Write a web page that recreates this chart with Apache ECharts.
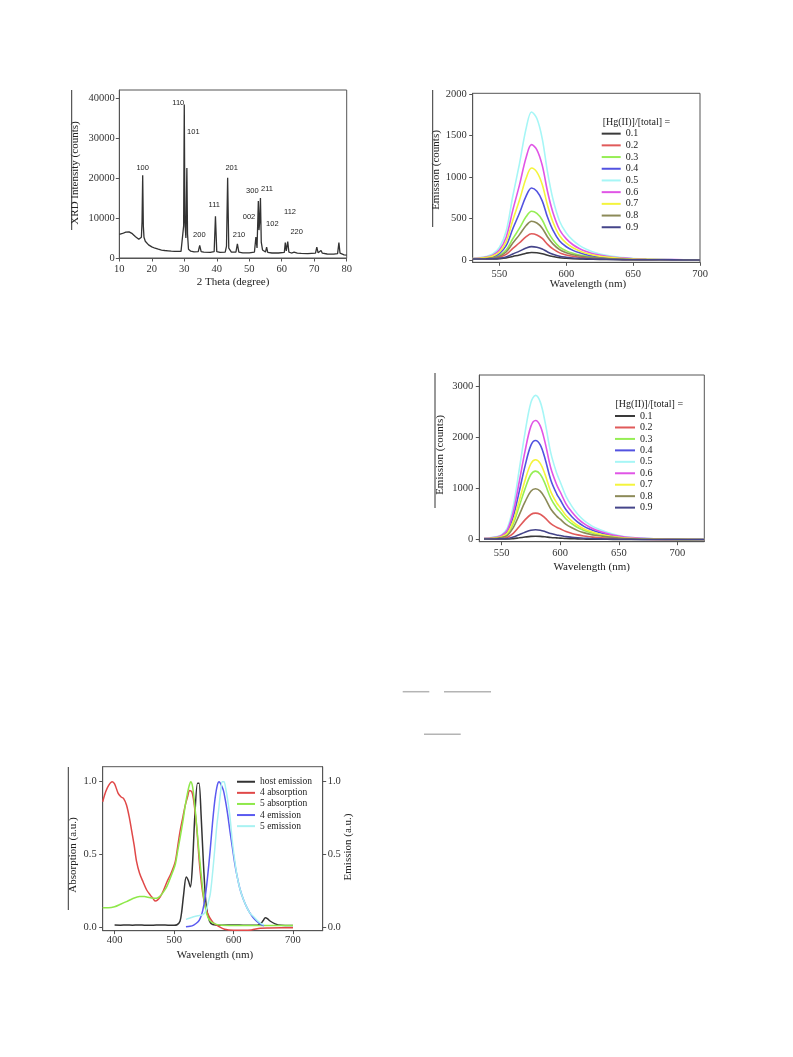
<!DOCTYPE html>
<html><head><meta charset="utf-8">
<script src="https://cdn.jsdelivr.net/npm/echarts@6/dist/echarts.min.js"></script>
<style>html,body{margin:0;padding:0;background:#fff}#c{width:793px;height:1057px}</style>
</head><body><div id="c"></div><script>
// ---------- Panel 1: XRD ----------
const xrdX = [10,10.5,11,11.5,12,12.5,13,13.5,14,14.5,15,15.5,16,16.5,16.8,17.0,17.2,17.4,17.6,18,19,20,21,22,23,24,25,26,27,28,29,29.6,29.8,30.0,30.2,30.5,30.8,31.0,31.3,32,33,34.3,34.75,35.2,36,38,39.2,39.6,40.0,41,42.6,43.0,43.35,43.7,44.5,45.9,46.35,46.8,48,50,51.6,52.05,52.4,52.8,53.0,53.2,53.45,53.7,54.1,55.0,55.35,55.7,57,59,60.8,61.1,61.4,61.85,62.2,63,63.8,64.15,64.8,66,68,70.4,70.8,71.2,71.8,72.1,72.5,74,76,77.2,77.6,77.95,78.5,79.2,80];
const xrdY = [5900,6000,6150,6350,6500,6580,6560,6400,6100,5750,5350,5000,4700,4600,5200,9000,20750,8000,5200,4200,3300,2800,2450,2200,2000,1880,1800,1720,1680,1650,1650,1800,8000,38500,9000,5000,22600,6000,2200,1700,1550,1600,3150,1600,1450,1400,1600,10450,1600,1400,1450,3000,20150,2500,1500,1450,3550,1500,1300,1300,1500,5250,2500,14300,7000,9000,15050,4000,2000,1500,2750,1400,1250,1250,1400,3850,1800,4100,1500,1250,1450,1500,1200,1150,1100,1200,2750,1300,1550,1900,1200,1000,950,1100,3850,1200,900,800,700];
const xrdPeakLabels = ['100','110','101','200','111','201','210','300','211','002','102','112','220'];

// ---------- Panel 2: emission, first titration ----------
const names = ['0.1','0.2','0.3','0.4','0.5','0.6','0.7','0.8','0.9'];
const wl2 = [530,535,540,545,550,555,560,565,570,574,578,582,586,590,595,600,605,610,615,620,630,640,650,660,680,700];
const em2_01 = [11,11,12,13,16,24,43,61,82,91,87,76,56,41,27,20,15,12,10,8,6,4,3,2,1,0];
const em2_02 = [12,13,16,21,34,67,139,208,282,316,302,260,189,133,86,61,44,33,26,20,12,8,5,4,2,0];
const em2_03 = [14,16,20,30,56,119,256,384,524,588,562,483,349,245,156,110,80,59,45,34,20,12,7,5,2,1];
const em2_04 = [15,19,26,40,78,172,377,567,774,869,830,714,515,360,229,160,116,86,64,49,29,17,10,6,3,1];
const em2_05 = [21,28,42,72,151,346,772,1164,1591,1787,1707,1466,1057,736,468,326,236,173,129,97,56,32,18,11,5,2];
const em2_06 = [18,24,35,59,120,271,602,907,1240,1392,1330,1143,824,574,365,255,184,136,101,76,45,25,15,9,4,1];
const em2_07 = [17,21,30,49,97,218,481,724,989,1110,1060,911,657,459,292,204,148,109,81,61,36,21,12,8,3,1];
const em2_08 = [13,15,18,26,46,96,204,306,416,467,446,384,278,195,125,88,64,48,36,28,17,10,6,4,2,0];
const em2_09 = [11,12,13,15,21,37,73,107,144,161,154,133,97,70,45,33,24,19,15,12,8,5,3,3,1,0];

// ---------- Panel 3: emission, second titration ----------
const wl3 = [535,540,545,550,555,560,565,570,575,579,583,587,592,597,600,605,610,615,620,625,630,640,650,660,680,700,723];
const em3_01 = [12,13,13,14,13,22,37,52,65,68,65,57,44,36,32,23,19,16,13,11,10,8,7,6,3,3,3];
const em3_02 = [15,17,20,27,49,126,254,388,495,521,498,429,316,244,213,159,123,95,74,59,47,31,19,13,6,5,3];
const em3_03 = [20,25,33,52,115,316,650,997,1278,1345,1285,1104,810,623,543,406,313,239,186,145,115,72,42,25,11,7,4];
const em3_04 = [24,31,43,70,163,454,938,1442,1849,1946,1859,1597,1171,900,783,586,451,344,267,209,164,102,59,34,15,9,5];
const em3_05 = [29,40,57,97,234,657,1362,2096,2688,2829,2702,2321,1701,1306,1136,851,654,499,386,301,236,146,84,47,20,11,6];
const em3_06 = [26,35,49,82,194,544,1126,1732,2222,2338,2233,1919,1406,1080,940,704,541,413,320,250,196,122,70,40,17,10,5];
const em3_07 = [21,28,37,59,133,367,756,1162,1489,1567,1497,1286,943,725,632,473,364,278,216,169,133,83,49,28,12,8,5];
const em3_08 = [18,22,28,42,87,236,483,741,949,998,953,820,602,463,404,302,233,178,139,109,86,55,33,20,9,6,4];
const em3_09 = [13,14,15,18,23,51,98,146,186,195,187,161,120,94,83,61,48,38,30,25,20,14,10,8,4,4,3];

// ---------- Panel 4: absorption / emission ----------
const hostX = [400,410,420,430,440,450,460,470,480,490,500,505,510,513,516,520.5,524,527.5,531,535,539.5,542,545.5,549.5,554,559.7,565,580,600,620,640,646,650,653.5,657,662,670,680,690,700];
const hostY = [0.014,0.013,0.014,0.013,0.015,0.013,0.012,0.014,0.014,0.013,0.013,0.016,0.04,0.11,0.22,0.345,0.32,0.275,0.43,0.77,0.99,0.99,0.77,0.43,0.15,0.04,0.018,0.013,0.015,0.012,0.013,0.025,0.045,0.064,0.058,0.04,0.022,0.012,0.011,0.010];
const abs4X = [380,385,390,396,400,406,411,415,420,425,429,433,437,442,448,454,460,465,468,472,477,482,488,495,502,506,510,515,519,523,526,530,533,536,539,542,545,548,552,556,560,566,575,585,600,615,630,645,660,680,700];
const abs4Y = [0.862,0.93,0.975,1.0,0.985,0.92,0.895,0.885,0.84,0.75,0.656,0.56,0.45,0.37,0.31,0.255,0.22,0.195,0.18,0.185,0.21,0.25,0.31,0.37,0.45,0.55,0.656,0.76,0.84,0.90,0.94,0.93,0.87,0.77,0.64,0.47,0.34,0.24,0.15,0.1,0.065,0.03,0.005,-0.015,-0.022,-0.022,-0.02,-0.008,-0.006,-0.005,-0.005];
const abs5X = [380,390,400,410,420,430,442,450,456,462,468,472,477,482,488,495,502,506,510,515,519,523,526,528,531,534,538,541,544,547,550,555,561,570,580,600,630,660,700];
const abs5Y = [0.133,0.133,0.14,0.157,0.175,0.195,0.21,0.21,0.205,0.2,0.198,0.2,0.215,0.24,0.28,0.35,0.43,0.52,0.61,0.73,0.84,0.93,0.98,1.0,0.97,0.87,0.70,0.56,0.43,0.31,0.2,0.09,0.04,0.02,0.012,0.011,0.011,0.01,0.01];
const em4X = [520,527,533,540,544,548,552,556,561,565,569,573,576,579,583,586,590,594,598,602,606,611,617,623,628,634,640,645,651];
const em4Y = [0.002,0.005,0.014,0.035,0.06,0.11,0.197,0.33,0.54,0.73,0.885,0.98,1.0,0.98,0.94,0.88,0.78,0.66,0.55,0.44,0.35,0.26,0.186,0.13,0.094,0.06,0.037,0.02,0.009];
const em5X = [520,527,533,540,547,551,554,557,561,565,569,572,575,578,581,584,587,590,594,598,602,606,611,617,623,628,634,640,645,651];
const em5Y = [0.053,0.062,0.071,0.078,0.083,0.095,0.117,0.16,0.23,0.38,0.56,0.70,0.805,0.92,1.0,1.0,0.95,0.88,0.76,0.59,0.46,0.35,0.26,0.186,0.13,0.094,0.071,0.045,0.028,0.014];
const names4 = ['host emission','4 absorption','5 absorption','4 emission','5 emission'];

// tick label values
const xrdXTicks = [10,20,30,40,50,60,70,80];
const xrdYTicks = [0,10000,20000,30000,40000];
const p2XTicks = [550,600,650,700];
const p2YTicks = [0,500,1000,1500,2000];
const p3XTicks = [550,600,650,700];
const p3YTicks = [0,1000,2000,3000];
const p4XTicks = [400,500,600,700];
const p4YTicks = [0,0.5,1.0];

// ---------- styles ----------
const colors9 = ['#3a3a3a','#e05a5a','#96ee55','#5252e0','#a6f6f6','#e055e6','#f4f43c','#8c8a58','#45458a'];
const colors4 = ['#333333','#e04848','#8ee84a','#5a5af0','#a8f2f2'];
const SERIF = 'Liberation Serif';
const AX = '#555';
const pts = (xs, ys) => xs.map((x, i) => [x, ys[i]]);
const plain = v => String(v);
const one = v => v.toFixed(1);

function axis(gridIndex, min, max, ticks, fmt, margin, extra) {
  return Object.assign({
    type: 'value', gridIndex, min, max, scale: true,
    axisLine: {show: true, onZero: false, lineStyle: {color: AX, width: 1}},
    axisTick: {show: true, inside: false, length: 3.5, customValues: ticks, lineStyle: {color: AX}},
    axisLabel: {customValues: ticks, formatter: fmt, fontFamily: SERIF, fontSize: 10.5, color: '#333', margin: margin},
    splitLine: {show: false}
  }, extra || {});
}

const grids = [
  {left: 119.3, top: 90, width: 227.4, height: 168},
  {left: 472.7, top: 93.3, width: 227.3, height: 169},
  {left: 479.3, top: 375, width: 225, height: 166.7},
  {left: 102.7, top: 766.7, width: 220, height: 164}
].map(g => Object.assign(g, {show: true, borderColor: AX, borderWidth: 1, backgroundColor: 'transparent'}));

const xAxes = [
  axis(0, 10, 80, xrdXTicks, plain, 6),
  axis(1, 530, 700, p2XTicks, plain, 6),
  axis(2, 531, 723, p3XTicks, plain, 6),
  axis(3, 380, 750, p4XTicks, plain, 4)
];
const yAxes = [
  axis(0, 0, 42150, xrdYTicks, plain, 4.5),
  axis(1, -28, 2012, p2YTicks, plain, 6),
  axis(2, -39, 3229, p3YTicks, plain, 6),
  axis(3, -0.025, 1.103, p4YTicks, one, 6),
  axis(3, -0.025, 1.103, p4YTicks, one, 5, {position: 'right'})
];

const series = [];
series.push({type: 'line', name: 'XRD', xAxisIndex: 0, yAxisIndex: 0, data: pts(xrdX, xrdY), showSymbol: false,
  lineStyle: {color: '#333', width: 1.3}, itemStyle: {color: '#333'}});
const em2 = [em2_01, em2_02, em2_03, em2_04, em2_05, em2_06, em2_07, em2_08, em2_09];
const em3 = [em3_01, em3_02, em3_03, em3_04, em3_05, em3_06, em3_07, em3_08, em3_09];
em2.forEach((ys, i) => series.push({type: 'line', name: names[i], xAxisIndex: 1, yAxisIndex: 1, data: pts(wl2, ys),
  showSymbol: false, smooth: 0.35, lineStyle: {color: colors9[i], width: 1.6}, itemStyle: {color: colors9[i]}}));
em3.forEach((ys, i) => series.push({type: 'line', name: names[i], xAxisIndex: 2, yAxisIndex: 2, data: pts(wl3, ys),
  showSymbol: false, smooth: 0.35, lineStyle: {color: colors9[i], width: 1.6}, itemStyle: {color: colors9[i]}}));
const p4 = [[hostX, hostY, 4], [abs4X, abs4Y, 3], [abs5X, abs5Y, 3], [em4X, em4Y, 4], [em5X, em5Y, 4]];
p4.forEach((d, i) => series.push({type: 'line', name: names4[i], xAxisIndex: 3, yAxisIndex: d[2], data: pts(d[0], d[1]),
  showSymbol: false, smooth: 0.3, lineStyle: {color: colors4[i], width: 1.5}, itemStyle: {color: colors4[i]}}));

const legendBase = {orient: 'vertical', padding: 0, icon: 'rect', itemHeight: 2, selectedMode: false};
const legends = [
  Object.assign({}, legendBase, {left: 601.7, top: 127.8, itemGap: 0, itemWidth: 19, data: names,
    textStyle: {fontFamily: SERIF, fontSize: 10, lineHeight: 11.7, color: '#222'}}),
  Object.assign({}, legendBase, {left: 615, top: 410.3, itemGap: 0, itemWidth: 20, data: names,
    textStyle: {fontFamily: SERIF, fontSize: 10, lineHeight: 11.45, color: '#222'}}),
  Object.assign({}, legendBase, {left: 237, top: 776.2, itemGap: 0, itemWidth: 18, data: names4,
    textStyle: {fontFamily: SERIF, fontSize: 9.5, lineHeight: 11.1, color: '#222'}})
];

function txt(text, x, y, size, rot, family) {
  return {type: 'text', x, y, rotation: rot || 0, silent: true,
    style: {text, fontFamily: family || SERIF, fontSize: size, fill: '#222', align: 'center', verticalAlign: 'middle'}};
}
function ln(x1, y1, x2, y2, color, w) {
  return {type: 'line', silent: true, shape: {x1, y1, x2, y2}, style: {stroke: color, lineWidth: w}};
}
const R = Math.PI / 2;
const peakPos = [[142.7,167.7],[178.3,102.7],[193.3,132.3],[199.3,235],[214.3,205],[231.7,168.3],[239,235],[252.3,190.7],[267,189],[249,217.3],[272.3,224.3],[290,212.3],[296.7,232.3]];
const graphic = [
  txt('XRD Intensity (counts)', 75, 173, 11, R),
  txt('2 Theta (degree)', 233, 282, 11),
  txt('Emission (counts)', 436, 170, 11, R),
  txt('Wavelength (nm)', 588, 284, 11),
  txt('Emission (counts)', 440, 455, 11, R),
  txt('Wavelength (nm)', 591.7, 566.7, 11),
  txt('Absorption (a.u.)', 73, 855, 11, R),
  txt('Emission (a.u.)', 348, 847, 11, R),
  txt('Wavelength (nm)', 215, 955, 11),
  {type: 'text', x: 602.7, y: 122.5, silent: true, style: {text: '[Hg(II)]/[total] =', fontFamily: SERIF, fontSize: 10, fill: '#222', align: 'left', verticalAlign: 'middle'}},
  {type: 'text', x: 615.5, y: 404.5, silent: true, style: {text: '[Hg(II)]/[total] =', fontFamily: SERIF, fontSize: 10, fill: '#222', align: 'left', verticalAlign: 'middle'}},
  ln(71.7, 90, 71.7, 230, '#333', 1),
  ln(432.7, 90, 432.7, 227, '#333', 1),
  ln(435, 373, 435, 508, '#333', 1),
  ln(68.3, 767, 68.3, 910, '#333', 1),
  ln(402.7, 691.7, 429.3, 691.7, '#b4b4b4', 1.5),
  ln(444, 691.7, 491, 691.7, '#b4b4b4', 1.5),
  ln(424, 734.3, 460.7, 734.3, '#b4b4b4', 1.5)
];
xrdPeakLabels.forEach((t, i) => graphic.push(txt(t, peakPos[i][0], peakPos[i][1], 7.5, 0, 'Liberation Sans')));

const chart = echarts.init(document.getElementById('c'), null, {renderer: 'canvas'});
chart.setOption({
  animation: false,
  backgroundColor: '#fff',
  grid: grids,
  xAxis: xAxes,
  yAxis: yAxes,
  legend: legends,
  series,
  graphic
});
</script></body></html>
